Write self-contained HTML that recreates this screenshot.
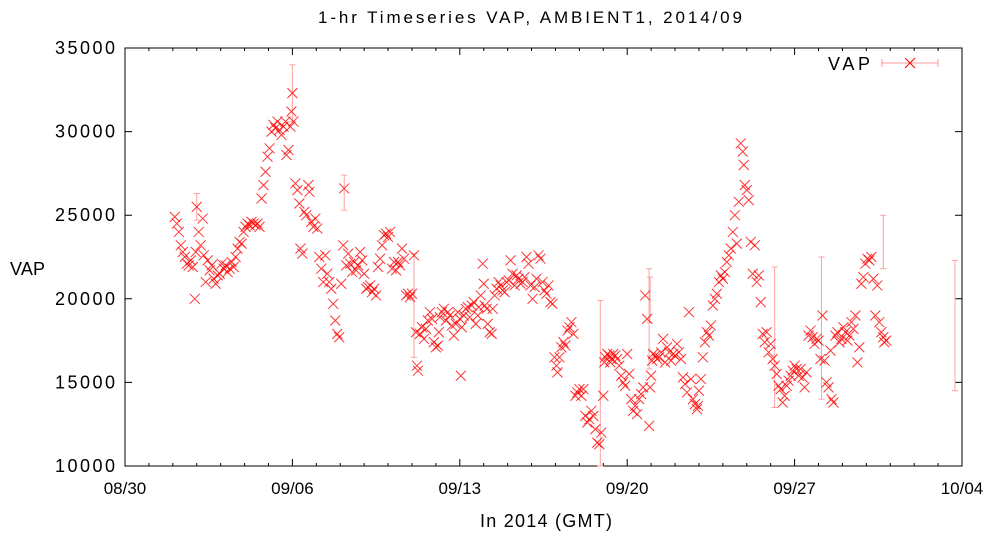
<!DOCTYPE html>
<html><head><meta charset="utf-8"><style>
html,body{margin:0;padding:0;background:#fff}
svg{display:block;font-family:"Liberation Sans",sans-serif}
</style></head><body>
<svg id="chart" width="998" height="540" viewBox="0 0 998 540">
<text x="318" y="23" font-size="17" textLength="424" lengthAdjust="spacing">1-hr Timeseries VAP, AMBIENT1, 2014/09</text>
<text x="10" y="275" font-size="18" textLength="35">VAP</text>
<text x="480" y="527" font-size="18" textLength="132" lengthAdjust="spacing">In 2014 (GMT)</text>
<g id="axes"></g>
<g id="errs"></g>
<g id="marks"></g>
<g>
<text x="828" y="70" font-size="18" textLength="42">VAP</text>
<line x1="882" y1="63" x2="938" y2="63" stroke="#ff9a9a" stroke-width="1"/>
<line x1="882" y1="59" x2="882" y2="67" stroke="#ff9a9a"/>
<line x1="938" y1="59" x2="938" y2="67" stroke="#ff9a9a"/>
<path d="M905 58 L915 68 M905 68 L915 58" stroke="#f00" stroke-width="1"/>
</g>
</svg>
<script>
// hours since 2014-08-30 00:00 GMT
const hours = [50,52,54,56,58,60,62,64,66,68,70,71,72,74,76,78,79,81,83,85,87,89,91,93,95,97,99,101,103,105,107,109,111,113,115,117,119,121,123,125,127,129,131,133,135,137,139,141,143,145,147,149,151,153,155,157,159,161,162,164,166,167,168,169,171,173,175,176,178,180,182,184,185,187,189,191,193,195,197,199,201,203,205,207,209,211,213,215,217,219,220,222,224,226,228,230,232,234,236,238,240,242,244,246,248,250,252,254,256,258,260,262,264,266,268,270,272,274,276,278,280,282,284,286,288,290,292,293,294,296,298,300,302,304,306,308,310,312,314,315,316,318,320,322,324,326,328,330,332,334,336,337,338,340,342,344,346,348,350,352,354,355,357,359,360,361,363,364,366,368,369,371,373,375,377,379,381,383,385,387,389,391,393,395,397,399,401,403,405,407,409,411,413,415,417,419,421,423,425,427,429,431,433,434,436,438,440,442,444,446,448,450,452,454,456,458,460,462,464,466,468,470,472,474,476,478,480,481,482,484,486,487,488,490,492,494,496,498,500,502,504,506,508,510,512,514,516,518,520,522,524,526,527,528,529,530,532,534,536,538,540,542,544,546,548,550,552,554,556,558,560,562,564,566,568,570,572,574,575,576,578,580,582,584,586,588,590,592,594,596,598,600,602,604,606,608,610,612,614,616,618,620,621,622,624,626,628,630,632,634,636,638,640,642,644,646,648,650,652,654,656,658,660,662,664,666,668,670,672,674,676,678,680,682,684,686,688,690,692,694,696,698,700,702,704,706,708,709,711,713,715,717,719,721,723,725,727,729,731,733,735,737,739,741,743,745,747,749,751,753,755,757,759,761,762,764,766,768,770,772];
const vap = [24900,24500,24000,23200,22800,22500,22100,22000,22300,21900,20000,22800,25500,24000,23200,24800,22600,21000,22300,21700,22000,21200,20900,21400,21500,22100,21800,22000,21600,21800,22200,21900,22500,23000,23400,23300,24000,24300,24500,24400,24600,24500,24400,24500,24300,26000,26800,27600,28500,29000,30000,30400,30200,30600,30100,29800,30300,30600,28600,28900,30300,31200,32300,30600,26900,26500,25700,23000,22700,25200,25000,26800,26400,24600,24300,24800,24200,22500,21800,21000,22600,21500,21000,20600,19700,18700,17900,17700,20900,23200,26600,22000,22700,22100,21600,22200,21700,22000,22800,22300,21500,20600,20700,20800,20400,20600,20200,21900,22400,23200,23800,23900,23700,24000,21800,22200,21700,22200,22000,23000,22400,20200,20300,20100,20300,22600,18000,16000,15700,17900,18300,17600,18200,18700,19200,18800,17400,17100,17200,18000,18900,19200,19400,18700,19200,19000,18400,17800,18500,19200,18800,15400,18300,19000,19400,19500,18900,19600,19800,18500,19000,19500,20200,22100,20900,19600,19400,18500,18000,17900,19400,20200,20600,21000,20800,20500,20400,21000,21100,22300,21500,20800,21400,21200,20900,21000,21300,22500,22100,20800,20000,20700,21200,22600,22400,21000,20500,20300,20800,19800,19700,16500,16000,15600,16500,17100,17400,17200,18100,18300,18600,17900,14200,14400,14600,14200,14600,13000,12600,12800,13300,13000,12200,11400,11300,12000,14200,16200,16500,16700,16600,16200,16400,16700,16600,16400,16000,15400,15000,14800,16700,15500,14000,13300,13600,13100,14000,14300,14700,20200,18800,12400,14700,15400,16300,16700,16600,16400,16500,16800,17600,16200,17100,16800,16300,16700,16600,17300,16800,16400,15300,14900,14400,19200,15200,14000,13700,13400,13600,14500,15200,16500,17400,18000,17800,18400,19600,20000,20300,21000,21400,21200,21600,22200,22600,23000,24000,25000,23300,25800,29300,28800,28000,26800,26500,25900,23400,21500,23200,21000,21400,19800,17900,17400,18000,16800,17300,16400,16000,15500,14800,14600,13800,14200,14800,15100,15400,15700,16000,15800,15400,15800,15300,14700,15600,17800,18100,17700,17300,17600,17500,16400,19000,16300,15000,14700,16900,14000,13800,17800,18000,17400,17600,18300,18000,17500,17800,18600,18200,19000,16200,17100,20900,21300,22100,22400,22300,22500,21200,19000,20800,18600,18000,17700,17400,17500];
// a few large uncertainty bars visible in the reference: [hour, low, high]
const errHours = [72,168,220,290,477,526,527,652,699,761,833];
const errLow = [24700,30600,25300,16500,10000,15800,18600,13500,14000,21800,14500];
const errHigh = [26300,34000,27400,22700,19900,21800,21300,21900,22500,25000,22300];
const yTicks = [10000,15000,20000,25000,30000,35000];
const xTickLabels = ["08/30","09/06","09/13","09/20","09/27","10/04"];

const NS = "http://www.w3.org/2000/svg";
const L = 125, R = 962, T = 48, B = 466;
const xMax = 35 * 24;
const xs = h => L + (h / xMax) * (R - L);
const ys = v => B - (v - 10000) / 25000 * (B - T);
function mk(tag, attrs, parent) {
  const e = document.createElementNS(NS, tag);
  for (const k in attrs) e.setAttribute(k, attrs[k]);
  parent.appendChild(e);
  return e;
}
const axes = document.getElementById("axes");
const frame = mk("rect", {x: L, y: T, width: R - L, height: B - T, fill: "none", stroke: "#000", "stroke-width": 1}, axes);


yTicks.forEach(v => {
  const y = ys(v);
  const t1 = mk("path", {d: `M${L} ${y}h7M${R} ${y}h-7`, stroke: "#000"}, axes);
  
  
  const tx = mk("text", {x: L - 70, y: y + 6, "font-size": 18, textLength: 60}, axes);
  
  
  tx.textContent = v;
});
for (let d = 0; d <= 35; d++) {
  const x = xs(d * 24);
  const major = d % 7 === 0;
  const len = major ? 7 : 3;
  const t = mk("path", {d: `M${x} ${B}v-${len}M${x} ${T}v${len}`, stroke: "#000"}, axes);
  
  
  if (major) {
    const tx = mk("text", {x: x, y: B + 28, "font-size": 17, "text-anchor": "middle"}, axes);
    
    
    tx.textContent = xTickLabels[d / 7];
  }
}
const errs = document.getElementById("errs");
errHours.forEach((h, i) => {
  const x = xs(h), y1 = ys(errLow[i]), y2 = ys(errHigh[i]);
  const e = mk("path", {d: `M${x} ${y1}V${y2}M${x-3} ${y1}h6M${x-3} ${y2}h6`, stroke: "#ffa0a0", "stroke-width": 1, fill: "none"}, errs);
  
  
});
const marks = document.getElementById("marks");
hours.forEach((h, i) => {
  const x = xs(h), y = ys(vap[i]);
  const p = mk("path", {d: `M${x-5} ${y-5}L${x+5} ${y+5}M${x-5} ${y+5}L${x+5} ${y-5}`, stroke: "rgba(255,0,0,0.8)", "stroke-width": 1, fill: "none"}, marks);
  
  
});
</script>
</body></html>
